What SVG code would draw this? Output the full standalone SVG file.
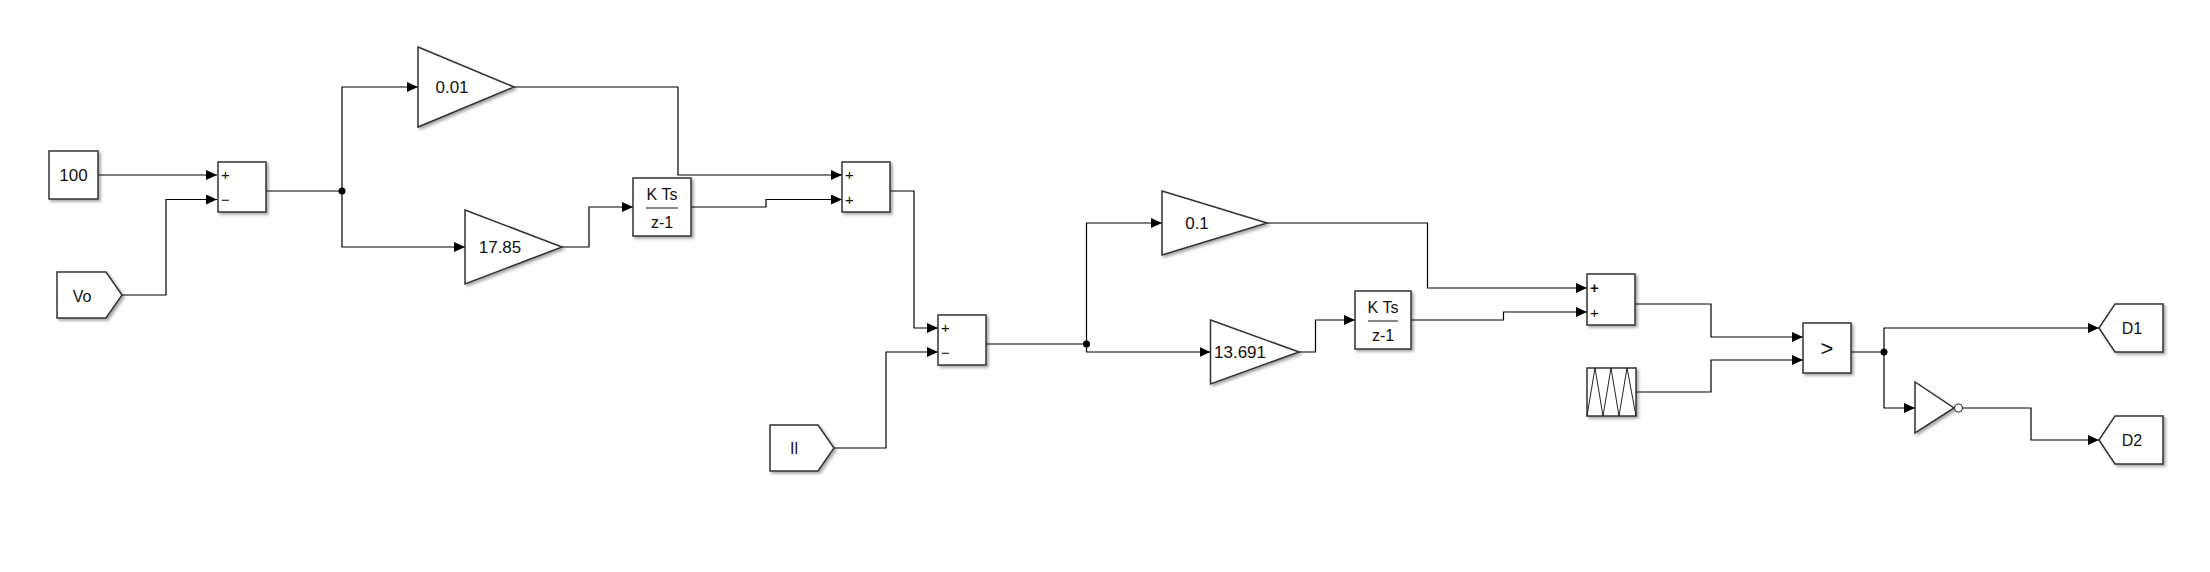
<svg xmlns="http://www.w3.org/2000/svg" width="2210" height="572" viewBox="0 0 2210 572">
<style>
.blk{fill:#fff;stroke:#333;stroke-width:1.5;filter:url(#sh)}
.ln{fill:none;stroke:#000;stroke-width:1.2}
.arr{marker-end:url(#ah)}
.t{font-family:"Liberation Sans",Arial,sans-serif;font-size:17px;fill:#111;text-anchor:middle;dominant-baseline:central}
.g{font-size:16px}
.s{font-family:"Liberation Sans",Arial,sans-serif;font-size:15px;fill:#111;dominant-baseline:central}
.k{font-family:"Liberation Sans",Arial,sans-serif;font-size:16px;fill:#111;text-anchor:middle}
.dot{fill:#000}
</style>
<defs>
<filter id="sh" x="-20%" y="-20%" width="150%" height="150%">
<feDropShadow dx="2" dy="2" stdDeviation="1.5" flood-color="#000" flood-opacity="0.35"/>
</filter>
<marker id="ah" markerUnits="userSpaceOnUse" markerWidth="11" markerHeight="10" refX="11" refY="5" orient="auto">
<path d="M0,0 L11,5 L0,10 z" fill="#000"/>
</marker>
</defs>
<rect width="2210" height="572" fill="#fff"/>
<g id="connectors">
<path class="ln arr" d="M98,175 H217"/>
<path class="ln arr" d="M122,295 H166 V199.5 H217"/>
<path class="ln" d="M266,191 H342"/>
<path class="ln arr" d="M342,191 V87 H418"/>
<path class="ln arr" d="M342,191 V247 H465"/>
<path class="ln arr" d="M514,87 H678 V175 H842"/>
<path class="ln arr" d="M562,247 H589 V207 H633"/>
<path class="ln arr" d="M691,207 H766 V199.5 H842"/>
<path class="ln arr" d="M890,191 H914 V328 H938"/>
<path class="ln arr" d="M834,448 H886 V352 H938"/>
<path class="ln" d="M986,344 H1086.5"/>
<path class="ln arr" d="M1086.5,344 V223 H1162"/>
<path class="ln arr" d="M1086.5,344 V352 H1210.5"/>
<path class="ln arr" d="M1267,223 H1427.5 V288 H1587"/>
<path class="ln arr" d="M1299,352 H1315.5 V320 H1355"/>
<path class="ln arr" d="M1411,320 H1503.5 V312 H1587"/>
<path class="ln arr" d="M1635,304 H1711 V337 H1803"/>
<path class="ln arr" d="M1636,392 H1711 V360 H1803"/>
<path class="ln" d="M1851,352 H1884"/>
<path class="ln arr" d="M1884,352 V328 H2099"/>
<path class="ln arr" d="M1884,352 V408 H1915"/>
<path class="ln arr" d="M1963,408 H2031 V440 H2099"/>
<circle class="dot" cx="342" cy="191" r="3.5"/>
<circle class="dot" cx="1086.5" cy="344" r="3.5"/>
<circle class="dot" cx="1884" cy="352" r="3.5"/>
</g>
<g id="const100">
<rect class="blk" x="49" y="151" width="49" height="48"/>
<text class="t" x="73.5" y="175">100</text>
</g>
<g id="fromVo">
<polygon class="blk" points="57,272 106,272 122,295 106,318 57,318"/>
<text class="t g" x="82" y="296">Vo</text>
</g>
<g id="sum1">
<rect class="blk" x="218" y="162" width="48" height="50"/>
<text class="s" x="221" y="174.5">+</text>
<text class="s" x="221" y="199">−</text>
</g>
<g id="gain001">
<polygon class="blk" points="418,47 514,87 418,127"/>
<text class="t" x="452" y="87">0.01</text>
</g>
<g id="gain1785">
<polygon class="blk" points="465,210 562,247 465,284"/>
<text class="t" x="500" y="247">17.85</text>
</g>
<g id="integrator1">
<rect class="blk" x="633" y="178" width="58" height="58"/>
<text class="k" x="662" y="200">K Ts</text>
<line x1="646" y1="208" x2="678" y2="208" stroke="#111" stroke-width="1"/>
<text class="k" x="662" y="228">z-1</text>
</g>
<g id="sum2">
<rect class="blk" x="842" y="162" width="48" height="50"/>
<text class="s" x="845" y="174.5">+</text>
<text class="s" x="845" y="199.5">+</text>
</g>
<g id="fromIl">
<polygon class="blk" points="770,425 818,425 834,448 818,471 770,471"/>
<text class="t g" x="794" y="448">Il</text>
</g>
<g id="sum3">
<rect class="blk" x="938" y="315" width="48" height="50"/>
<text class="s" x="941" y="327.5">+</text>
<text class="s" x="941" y="352">−</text>
</g>
<g id="gain01">
<polygon class="blk" points="1162,191 1267,223 1162,255"/>
<text class="t" x="1197" y="223">0.1</text>
</g>
<g id="gain13691">
<polygon class="blk" points="1210.5,320 1299,352 1210.5,384"/>
<text class="t" x="1240" y="352">13.691</text>
</g>
<g id="integrator2">
<rect class="blk" x="1355" y="291" width="56" height="58"/>
<text class="k" x="1383" y="313">K Ts</text>
<line x1="1368" y1="321" x2="1398" y2="321" stroke="#111" stroke-width="1"/>
<text class="k" x="1383" y="341">z-1</text>
</g>
<g id="sum4">
<rect class="blk" x="1587" y="274" width="48" height="51"/>
<text class="s" x="1590" y="287" style="font-weight:bold">+</text>
<text class="s" x="1590" y="312">+</text>
</g>
<g id="triwave">
<rect class="blk" x="1587" y="368" width="49" height="48"/>
<polyline points="1587,416 1595,368 1603,416 1611,368 1619,416 1627,368 1636,416" fill="none" stroke="#222" stroke-width="1"/>
</g>
<g id="relop">
<rect class="blk" x="1803" y="323" width="48" height="50"/>
<text class="t" style="font-size:22px" x="1827" y="348">&gt;</text>
</g>
<g id="notgate">
<polygon class="blk" points="1915,382 1954,408 1915,433"/>
<circle cx="1958.5" cy="408" r="4" fill="#fff" stroke="#333" stroke-width="1.2"/>
</g>
<g id="gotoD1">
<polygon class="blk" points="2099,328 2115,304 2163,304 2163,352 2115,352"/>
<text class="t g" x="2132" y="328">D1</text>
</g>
<g id="gotoD2">
<polygon class="blk" points="2099,440 2115,416 2163,416 2163,464 2115,464"/>
<text class="t g" x="2132" y="440">D2</text>
</g>
</svg>
